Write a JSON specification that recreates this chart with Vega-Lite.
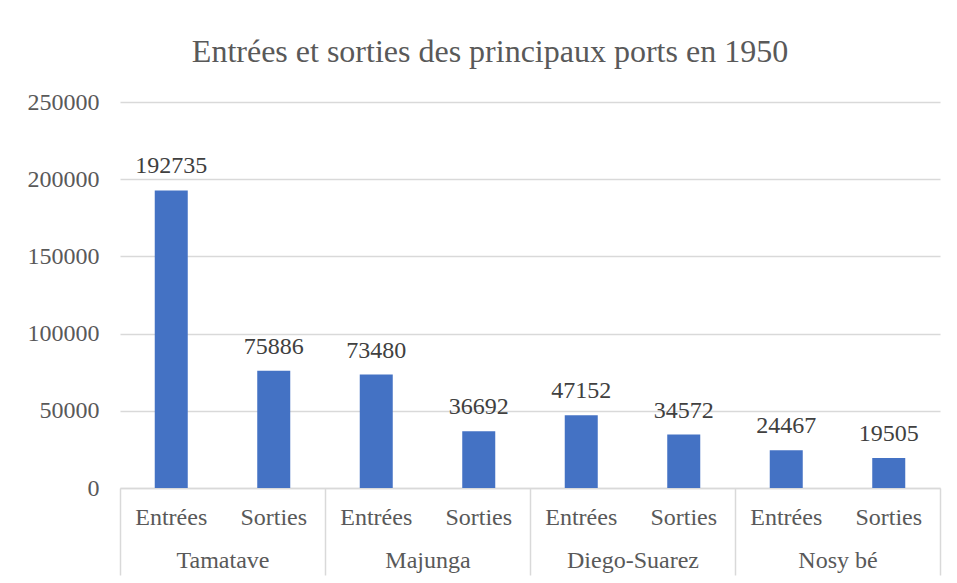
{
  "$schema": "https://vega.github.io/schema/vega-lite/v6.json",
  "width": 820,
  "height": 386,
  "autosize": {"type": "none"},
  "padding": {"left": 120, "top": 102, "right": 17, "bottom": 95},
  "background": "white",
  "config": {"view": {"stroke": null}, "font": "Liberation Serif"},
  "title": {
    "text": "Entrées et sorties des principaux ports en 1950",
    "fontSize": 32,
    "font": "Liberation Serif",
    "fontWeight": "normal",
    "color": "#595959",
    "anchor": "middle",
    "frame": "group",
    "dx": -40,
    "baseline": "alphabetic",
    "offset": -4
  },
  "data": {
    "values": [
      {"city": "Tamatave", "type": "Entrées", "key": "Tamatave|Entrées", "value": 192735},
      {"city": "Tamatave", "type": "Sorties", "key": "Tamatave|Sorties", "value": 75886},
      {"city": "Majunga", "type": "Entrées", "key": "Majunga|Entrées", "value": 73480},
      {"city": "Majunga", "type": "Sorties", "key": "Majunga|Sorties", "value": 36692},
      {"city": "Diego-Suarez", "type": "Entrées", "key": "Diego-Suarez|Entrées", "value": 47152},
      {"city": "Diego-Suarez", "type": "Sorties", "key": "Diego-Suarez|Sorties", "value": 34572},
      {"city": "Nosy bé", "type": "Entrées", "key": "Nosy bé|Entrées", "value": 24467},
      {"city": "Nosy bé", "type": "Sorties", "key": "Nosy bé|Sorties", "value": 19505}
    ]
  },
  "layer": [
    {
      "encoding": {
        "x": {
          "field": "key",
          "type": "nominal",
          "sort": null,
          "scale": {"paddingInner": 0.678, "paddingOuter": 0.339},
          "axis": {
            "title": null,
            "labelExpr": "split(datum.label, '|')[1]",
            "labelAngle": 0,
            "labelFontSize": 24,
            "labelFont": "Liberation Serif",
            "labelColor": "#595959",
            "labelBaseline": "alphabetic",
            "labelPadding": 36,
            "ticks": false,
            "domainColor": "#D9D9D9",
            "domainWidth": 1.5,
            "grid": false
          }
        },
        "y": {
          "field": "value",
          "type": "quantitative",
          "scale": {"domain": [0, 250000], "nice": false},
          "axis": {
            "title": null,
            "values": [0, 50000, 100000, 150000, 200000, 250000],
            "format": "d",
            "domain": false,
            "ticks": false,
            "labelPadding": 21,
            "labelFontSize": 24,
            "labelFont": "Liberation Serif",
            "labelColor": "#595959",
            "gridColor": "#D9D9D9",
            "gridWidth": 1.5
          }
        }
      },
      "layer": [
        {"mark": {"type": "bar", "color": "#4472C4"}},
        {
          "mark": {"type": "text", "dy": -17, "baseline": "alphabetic", "fontSize": 24, "font": "Liberation Serif", "color": "#404040"},
          "encoding": {"text": {"field": "value", "type": "quantitative", "format": "d"}}
        }
      ]
    },
    {
      "mark": {"type": "point", "opacity": 0},
      "encoding": {
        "x": {
          "field": "city",
          "type": "nominal",
          "sort": null,
          "scale": {"type": "band", "paddingInner": 0, "paddingOuter": 0},
          "axis": {
            "orient": "bottom",
            "title": null,
            "domain": false,
            "ticks": true,
            "tickBand": "extent",
            "tickSize": 87,
            "tickWidth": 1.5,
            "tickColor": "#D9D9D9",
            "grid": false,
            "labelAngle": 0,
            "labelFontSize": 24,
            "labelFont": "Liberation Serif",
            "labelColor": "#595959",
            "labelBaseline": "alphabetic",
            "labelPadding": -8
          }
        },
        "y": {"field": "value", "type": "quantitative"}
      }
    }
  ],
  "resolve": {"scale": {"x": "independent"}}
}
